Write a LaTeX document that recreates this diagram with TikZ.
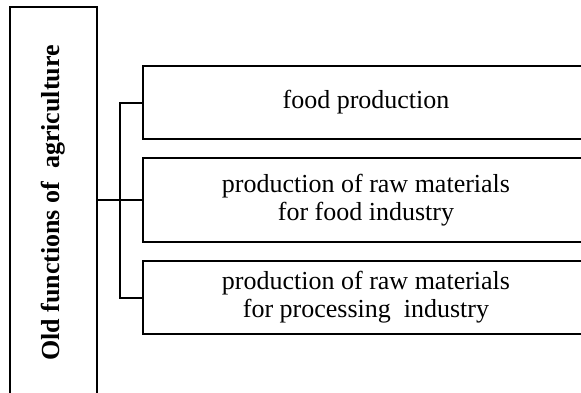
\documentclass[tikz,border=0pt]{standalone}
\usepackage{fontspec}
\setmainfont{Liberation Serif}
\usepackage{tikz}
\usetikzlibrary{positioning,calc}

\begin{document}
\begin{tikzpicture}[x=1pt, y=1pt, line width=2pt,
  funcbox/.style={draw, minimum width=446pt, minimum height=73pt, inner sep=0pt, align=center,
    font=\fontsize{26}{28}\selectfont},
  titlebox/.style={draw, minimum width=392pt, minimum height=87pt, inner sep=0pt, rotate=90,
    font=\fontsize{26}{28}\selectfont\bfseries}]

  % Fix the page and cut what runs past it
\useasboundingbox (0,0) rectangle (581,392); \clip (0,0) rectangle (581,392);

  % Define coordinates for nodes
\node[titlebox] (old) at (53.5, 189) {Old functions of \ agriculture}; \node[funcbox] (food) at (366, 289.5) {food production}; \node[funcbox, minimum height=84pt] (rawfood) at (366, 192) {production of raw materials\\for food industry}; \node[funcbox] (rawproc) at (366, 94.5) {production of raw materials\\for processing \ industry};

  % Draw connectors between nodes
\draw (rawfood.west -| old.south) -- (rawfood.west); \draw (food.west) -- ++(-22, 0) |- (rawproc.west);

\end{tikzpicture}
\end{document}
